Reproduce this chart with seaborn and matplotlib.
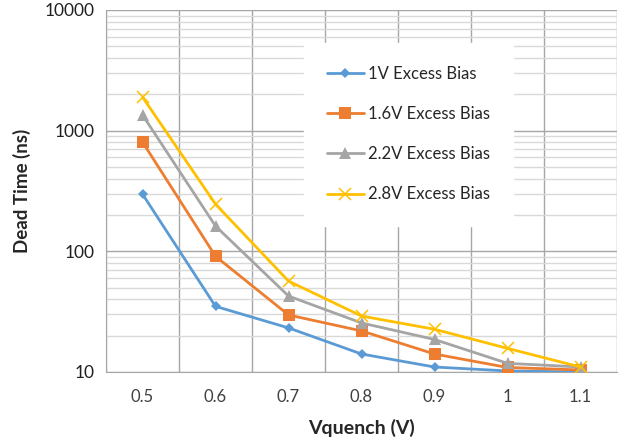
import numpy as np
import pandas as pd
import matplotlib
matplotlib.use("Agg")
import matplotlib.pyplot as plt
import seaborn as sns
from matplotlib.ticker import LogLocator, NullFormatter, FixedLocator

VQUENCH = ["0.5", "0.6", "0.7", "0.8", "0.9", "1", "1.1"]
SERIES = ["1V Excess Bias", "1.6V Excess Bias", "2.2V Excess Bias", "2.8V Excess Bias"]

bias_1v = [298, 35, 23.2, 14.1, 11.0, 10.2, 10.0]
bias_16v = [805, 91, 29.7, 21.9, 14.1, 10.9, 10.4]
bias_22v = [1350, 162, 42.6, 25.5, 18.6, 11.8, 11.0]
bias_28v = [1900, 246, 56.7, 29.1, 22.6, 15.7, 11.0]

COLORS = ["#5B9BD5", "#ED7D31", "#A5A5A5", "#FFC000"]
MARKERS = ["D", "s", "^", "x"]
MSIZES = [5, 8, 8, 8]

rows = []
for name, vals in zip(SERIES, [bias_1v, bias_16v, bias_22v, bias_28v]):
    for i, v in enumerate(vals):
        rows.append({"pos": i, "Vquench": VQUENCH[i], "series": name, "dead_time": v})
df = pd.DataFrame(rows)

sns.set_style("white")
plt.rcParams["font.family"] = ["Lato", "DejaVu Sans"]

fig = plt.figure(figsize=(6.18, 4.47), dpi=100)
ax = fig.add_axes([106 / 618, 75 / 447, 511 / 618, 362 / 447])

for name, c, m, ms in zip(SERIES, COLORS, MARKERS, MSIZES):
    sub = df[df["series"] == name]
    sns.lineplot(data=sub, x="pos", y="dead_time", ax=ax, color=c, marker=m,
                 markersize=ms, markeredgecolor=c, markeredgewidth=1.1 if m == "x" else 0,
                 linewidth=2.0, label=name, zorder=3)

ax.set_yscale("log")
ax.set_ylim(10, 10000)
ax.set_xlim(-0.5, 6.5)

ax.set_xticks(range(len(VQUENCH)))
ax.set_xticklabels(VQUENCH)
ax.xaxis.set_minor_locator(FixedLocator(np.arange(-0.5, 7, 1)))
ax.tick_params(axis="x", which="major", length=0, pad=12, labelsize=12, colors="#404040")
ax.tick_params(axis="x", which="minor", length=5, width=1, color="#a6a6a6")

ax.yaxis.set_major_locator(FixedLocator([10, 100, 1000, 10000]))
ax.set_yticklabels(["10", "100", "1000", "10000"])
ax.yaxis.set_minor_locator(LogLocator(base=10, subs=np.arange(2, 10)))
ax.yaxis.set_minor_formatter(NullFormatter())
ax.tick_params(axis="y", which="major", length=5, width=1, color="#a6a6a6",
               pad=3, labelsize=12.5, labelcolor="#202020")
ax.tick_params(axis="y", which="minor", length=0)

ax.grid(axis="x", which="minor", color="#a6a6a6", linewidth=1)
ax.grid(axis="y", which="major", color="#a6a6a6", linewidth=1)
ax.grid(axis="y", which="minor", color="#d9d9d9", linewidth=1)
ax.set_axisbelow(True)

for side in ["top", "right"]:
    ax.spines[side].set_visible(False)
ax.spines["left"].set_color("#a6a6a6")
ax.spines["bottom"].set_color("#a6a6a6")

ax.set_xlabel("Vquench (V)", fontsize=14, fontweight="bold", labelpad=10)
ax.set_ylabel("Dead Time (ns)", fontsize=13.5, fontweight="bold", labelpad=10)

leg = ax.legend(loc="upper left", bbox_to_anchor=(0.387, 0.91), frameon=True,
                fontsize=12, labelspacing=1.45, handlelength=2.2, handletextpad=0.25,
                borderpad=1.4, borderaxespad=0)
leg.get_frame().set_facecolor("white")
leg.get_frame().set_edgecolor("white")
leg.get_frame().set_alpha(1)
leg.set_zorder(5)

fig.savefig("out.png", dpi=100)
